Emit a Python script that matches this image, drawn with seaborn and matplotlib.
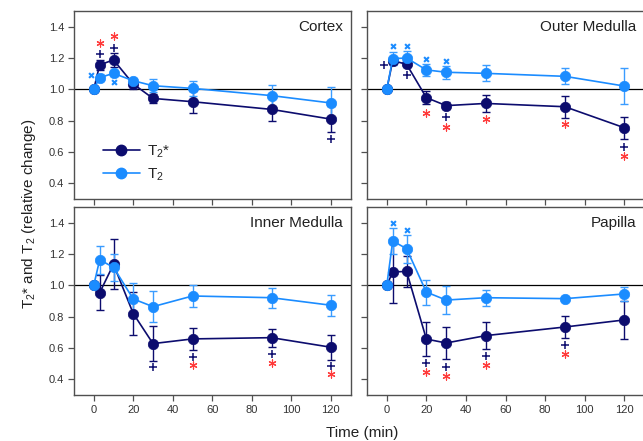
import numpy as np
import pandas as pd
import matplotlib
matplotlib.use("Agg")
import matplotlib.pyplot as plt
from matplotlib.lines import Line2D
import seaborn as sns

# ---- data -------------------------------------------------------------
TIME = [0, 3, 10, 20, 30, 50, 90, 120]

cortex_t2s = [1.00, 1.156, 1.188, 1.034, 0.942, 0.921, 0.872, 0.810]
cortex_t2s_err = [0.0, 0.03, 0.045, 0.03, 0.03, 0.07, 0.077, 0.085]
cortex_t2 = [1.00, 1.075, 1.102, 1.055, 1.023, 1.006, 0.960, 0.913]
cortex_t2_err = [0.0, 0.02, 0.02, 0.02, 0.04, 0.05, 0.065, 0.10]

outer_t2s = [1.00, 1.183, 1.160, 0.947, 0.896, 0.910, 0.889, 0.755]
outer_t2s_err = [0.0, 0.02, 0.02, 0.043, 0.02, 0.056, 0.07, 0.07]
outer_t2 = [1.00, 1.196, 1.200, 1.124, 1.109, 1.102, 1.083, 1.021]
outer_t2_err = [0.0, 0.04, 0.045, 0.036, 0.04, 0.052, 0.05, 0.113]

inner_t2s = [1.00, 0.953, 1.134, 0.820, 0.628, 0.658, 0.666, 0.605]
inner_t2s_err = [0.0, 0.11, 0.16, 0.14, 0.11, 0.07, 0.057, 0.08]
inner_t2 = [1.00, 1.163, 1.115, 0.913, 0.864, 0.932, 0.921, 0.873]
inner_t2_err = [0.0, 0.09, 0.085, 0.10, 0.10, 0.07, 0.065, 0.067]

papilla_t2s = [1.00, 1.085, 1.089, 0.657, 0.632, 0.679, 0.734, 0.779]
papilla_t2s_err = [0.0, 0.20, 0.10, 0.107, 0.104, 0.085, 0.07, 0.12]
papilla_t2 = [1.00, 1.283, 1.234, 0.957, 0.906, 0.921, 0.915, 0.945]
papilla_t2_err = [0.0, 0.085, 0.09, 0.08, 0.09, 0.05, 0.015, 0.045]

# significance symbols: (time, value)
cortex_x = [(-1.3, 1.092), (10, 1.045)]
cortex_plus = [(3, 1.226), (10, 1.266), (120, 0.680)]
cortex_star = [(3, 1.298), (10, 1.343)]

outer_x = [(3, 1.279), (10, 1.279), (20, 1.192), (30, 1.181)]
outer_plus = [(-1.35, 1.156), (10, 1.090), (30, 0.821), (120, 0.633)]
outer_star = [(20, 0.851), (30, 0.759), (50, 0.812), (90, 0.780), (120, 0.573)]

inner_x = []
inner_plus = [(30, 0.480), (50, 0.544), (90, 0.560), (120, 0.486)]
inner_star = [(50, 0.490), (90, 0.507), (120, 0.431)]

papilla_x = [(3, 1.396), (10, 1.353)]
papilla_plus = [(20, 0.502), (30, 0.479), (50, 0.549), (90, 0.619)]
papilla_star = [(20, 0.445), (30, 0.421), (50, 0.490), (90, 0.560)]

PANELS = [
    ("Cortex", cortex_t2s, cortex_t2s_err, cortex_t2, cortex_t2_err,
     cortex_x, cortex_plus, cortex_star),
    ("Outer Medulla", outer_t2s, outer_t2s_err, outer_t2, outer_t2_err,
     outer_x, outer_plus, outer_star),
    ("Inner Medulla", inner_t2s, inner_t2s_err, inner_t2, inner_t2_err,
     inner_x, inner_plus, inner_star),
    ("Papilla", papilla_t2s, papilla_t2s_err, papilla_t2, papilla_t2_err,
     papilla_x, papilla_plus, papilla_star),
]

LABEL_T2S = "T$_2$*"
LABEL_T2 = "T$_2$"

# ---- style ------------------------------------------------------------
sns.set_theme(style="ticks")
plt.rcParams["font.family"] = ["Liberation Sans", "DejaVu Sans"]
plt.rcParams["mathtext.default"] = "regular"

DARK = "#0c0c6e"
LIGHT = "#1b8cff"
LIGHT_BAR = "#3a9cff"
RED = "#ff3b3b"
SPINE = "#505050"
TICKTXT = "#333333"

W, H = 643, 441
fig = plt.figure(figsize=(W / 100, H / 100), dpi=100)


def px_axes(left, top, right, bottom):
    return fig.add_axes([left / W, 1 - bottom / H, (right - left) / W,
                         (bottom - top) / H])


axes = [
    px_axes(74, 11, 350.5, 199),
    px_axes(367, 11, 644, 199),
    px_axes(74, 207, 350.5, 395),
    px_axes(367, 207, 644, 395),
]

for i, (ax, panel) in enumerate(zip(axes, PANELS)):
    name, t2s, t2s_err, t2, t2_err, xm, pm, sm = panel
    ax.axhline(1.0, color="black", lw=0.9, zorder=1)

    for vals, errs, col, bar_col in ((t2s, t2s_err, DARK, DARK),
                                     (t2, t2_err, LIGHT, LIGHT_BAR)):
        ax.errorbar(TIME, vals, yerr=errs, fmt="none", ecolor=bar_col,
                    elinewidth=1.0, capsize=3, capthick=1.0, zorder=2)
        df = pd.DataFrame({"time": TIME, "value": vals})
        sns.lineplot(data=df, x="time", y="value", ax=ax, color=col,
                     marker="o", markersize=7.5, markeredgecolor=col,
                     markeredgewidth=0.5, linewidth=1.2, legend=False,
                     zorder=3)

    if xm:
        xs, ys = zip(*xm)
        ax.scatter(xs, ys, marker="x", s=12, color=LIGHT, linewidths=1.5,
                   zorder=4)
    if pm:
        xs, ys = zip(*pm)
        ax.scatter(xs, ys, marker="+", s=34, color=DARK, linewidths=1.1,
                   zorder=4)
    if sm:
        xs, ys = zip(*sm)
        ax.scatter(xs, ys, marker=(6, 2, 0), s=26, color=RED,
                   linewidths=0.85, zorder=4)

    ax.set_xlim(-10, 130)
    ax.set_ylim(0.3, 1.5)
    ax.set_xticks(np.arange(0, 121, 20))
    ax.set_yticks(np.arange(0.4, 1.41, 0.2))
    ax.set_xlabel("")
    ax.set_ylabel("")
    ax.tick_params(axis="both", direction="out", length=4, width=0.9,
                   color=SPINE, labelsize=8, labelcolor=TICKTXT, pad=3)
    if i % 2 == 0:
        ax.set_yticklabels([f"{v:.1f}" for v in np.arange(0.4, 1.41, 0.2)])
    else:
        ax.set_yticklabels([])
    if i < 2:
        ax.set_xticklabels([])
    for sp in ax.spines.values():
        sp.set_visible(True)
        sp.set_color(SPINE)
        sp.set_linewidth(1.0)

    ax.text(0.972, 0.9165, name, transform=ax.transAxes, ha="right",
            va="center", fontsize=11, color="#222222")

# legend in the cortex panel
handles = [
    Line2D([], [], color=DARK, marker="o", markersize=7.5, lw=1.2,
           markeredgecolor=DARK),
    Line2D([], [], color=LIGHT, marker="o", markersize=7.5, lw=1.2,
           markeredgecolor=LIGHT),
]
axes[0].legend(handles, [LABEL_T2S, LABEL_T2], loc="lower left",
               bbox_to_anchor=(0.055, 0.012), frameon=False, fontsize=11,
               handlelength=2.4, handletextpad=0.5, labelspacing=0.45)

fig.text(0.045, 0.515, f"{LABEL_T2S} and {LABEL_T2} (relative change)",
         rotation=90, ha="center", va="center", fontsize=11,
         color="#222222")
fig.text(0.563, 0.018, "Time (min)", ha="center", va="center", fontsize=11,
         color="#222222")

fig.savefig("out.png", dpi=100)
